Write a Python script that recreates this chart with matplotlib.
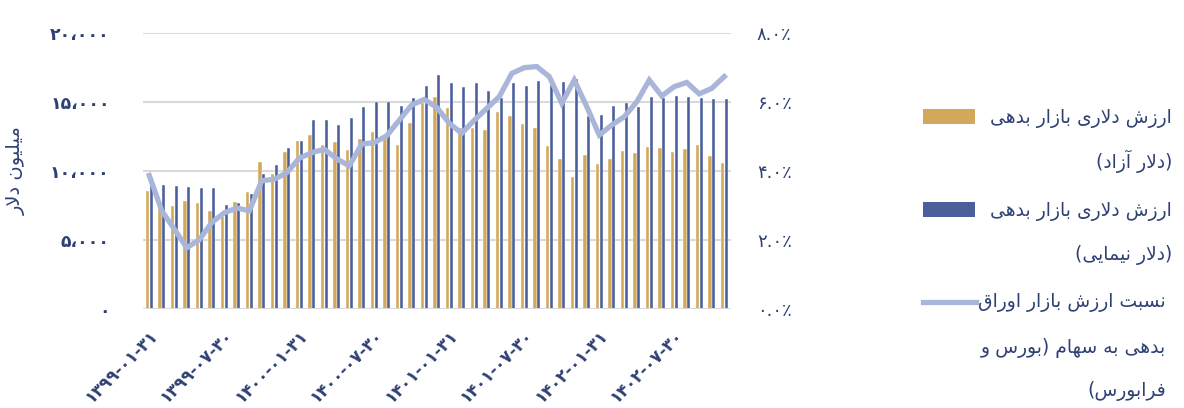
import matplotlib
matplotlib.use("Agg")
import matplotlib.pyplot as plt
from matplotlib.patches import Rectangle
from matplotlib.lines import Line2D
import numpy as np

# monthly debt-market value, million USD (free-market dollar / NIMA dollar)
free_usd = [8550, 7400, 7500, 7800, 7650, 7100, 6700, 7750, 8450, 10650,
            9750, 11400, 12150, 12600, 11900, 12100, 11550, 12300, 12800, 12300,
            11900, 13450, 14950, 15350, 14550, 13100, 13100, 12950, 14250, 13950,
            13400, 13100, 11800, 10900, 9600, 11150, 10500, 10900, 11450, 11300,
            11700, 11650, 11400, 11600, 11900, 11100, 10600]
nima_usd = [9000, 8990, 8890, 8820, 8800, 8800, 7540, 7660, 8320, 9790,
            10460, 11640, 12200, 13670, 13670, 13300, 13810, 14600, 14990, 14970,
            14720, 15250, 16150, 16940, 16390, 16050, 16390, 15760, 15300, 16340,
            16150, 16530, 16220, 16440, 16630, 14000, 14030, 14700, 14920, 14630,
            15350, 15300, 15400, 15350, 15250, 15230, 15230]
# ratio of debt-market value to equity market (percent)
ratio_pct = [3.87, 2.85, 2.32, 1.78, 2.01, 2.51, 2.79, 2.93, 2.85, 3.72,
             3.76, 3.95, 4.37, 4.53, 4.63, 4.35, 4.15, 4.78, 4.82, 5.02,
             5.47, 5.91, 6.07, 5.84, 5.38, 5.09, 5.47, 5.81, 6.15, 6.82,
             6.99, 7.02, 6.73, 5.96, 6.63, 5.86, 5.04, 5.33, 5.57, 6.00,
             6.63, 6.17, 6.44, 6.56, 6.23, 6.39, 6.73]

date_ticks = [0, 6, 12, 18, 24, 30, 36, 42]
date_labels = ["۱۳۹۹-۰۱-۳۱", "۱۳۹۹-۰۷-۳۰", "۱۴۰۰-۰۱-۳۱", "۱۴۰۰-۰۷-۳۰",
               "۱۴۰۱-۰۱-۳۱", "۱۴۰۱-۰۷-۳۰", "۱۴۰۲-۰۱-۳۱", "۱۴۰۲-۰۷-۳۰"]
left_ticks = [0, 5000, 10000, 15000, 20000]
left_labels = ["۰", "۵،۰۰۰", "۱۰،۰۰۰", "۱۵،۰۰۰", "۲۰،۰۰۰"]
right_ticks = [0, 2, 4, 6, 8]
right_labels = ["۰.۰٪", "۲.۰٪", "۴.۰٪", "۶.۰٪", "۸.۰٪"]

# contextual forms: isolated, final, initial, medial
FORMS = {
    'ا': ('\uFE8D', '\uFE8E', None, None),
    'آ': ('\uFE81', '\uFE82', None, None),
    'ب': ('\uFE8F', '\uFE90', '\uFE91', '\uFE92'),
    'ت': ('\uFE95', '\uFE96', '\uFE97', '\uFE98'),
    'د': ('\uFEA9', '\uFEAA', None, None),
    'ر': ('\uFEAD', '\uFEAE', None, None),
    'ز': ('\uFEAF', '\uFEB0', None, None),
    'س': ('\uFEB1', '\uFEB2', '\uFEB3', '\uFEB4'),
    'ش': ('\uFEB5', '\uFEB6', '\uFEB7', '\uFEB8'),
    'ف': ('\uFED1', '\uFED2', '\uFED3', '\uFED4'),
    'ق': ('\uFED5', '\uFED6', '\uFED7', '\uFED8'),
    'ل': ('\uFEDD', '\uFEDE', '\uFEDF', '\uFEE0'),
    'م': ('\uFEE1', '\uFEE2', '\uFEE3', '\uFEE4'),
    'ن': ('\uFEE5', '\uFEE6', '\uFEE7', '\uFEE8'),
    'ه': ('\uFEE9', '\uFEEA', '\uFEEB', '\uFEEC'),
    'و': ('\uFEED', '\uFEEE', None, None),
    'ی': ('\uFBFC', '\uFBFD', '\uFBFE', '\uFBFF'),
    'لا': ('\uFEFB', '\uFEFC', None, None),
    'لآ': ('\uFEF5', '\uFEF6', None, None),
}


def fa(s):
    """join persian letters and lay them out right-to-left"""
    units, i = [], 0
    while i < len(s):
        if s[i:i + 2] in FORMS:
            units.append(s[i:i + 2]); i += 2
        else:
            units.append(s[i]); i += 1
    out = []
    for k, u in enumerate(units):
        if u not in FORMS:
            out.append(u)
            continue
        prev = units[k - 1] if k > 0 else None
        nxt = units[k + 1] if k + 1 < len(units) else None
        jp = prev in FORMS and FORMS[prev][2] is not None
        jn = FORMS[u][2] is not None and nxt in FORMS
        iso, fin, ini, med = FORMS[u]
        out.append(med if jp and jn else fin if jp else ini if jn else iso)
    return ''.join(reversed(out)).translate(str.maketrans('()', ')('))


navy = '#2F4174'
tan = '#D2A95A'
blue = '#4A5F9C'
pale = '#A9B6DA'
grid = '#D9D9D9'

plt.rcParams['font.family'] = ['DejaVu Sans']

fig = plt.figure(figsize=(11.84, 4.08), dpi=100)
ax = fig.add_axes([0.1208, 0.2419, 0.4962, 0.6780])
ax2 = ax.twinx()

x = np.arange(len(free_usd))
ax.bar(x - 0.145, free_usd, width=0.25, color=tan, edgecolor='white', linewidth=0.3, zorder=2)
ax.bar(x + 0.145, nima_usd, width=0.25, color=blue, edgecolor='white', linewidth=0.3, zorder=2)
ax2.plot(x, ratio_pct, color=pale, linewidth=3.8, solid_joinstyle='miter', zorder=3)

ax.set_xlim(-0.5, len(x) - 0.5)
ax.set_ylim(0, 20000)
ax2.set_ylim(0, 8)

ax.set_yticks(left_ticks)
ax.set_yticklabels(left_labels, fontsize=12.5, fontweight='bold', color=navy)
ax2.set_yticks(right_ticks)
ax2.set_yticklabels(right_labels, fontsize=13, color=navy)
ax.tick_params(axis='y', length=0, pad=24)
ax2.tick_params(axis='y', length=0, pad=19)

ax.set_xticks(date_ticks)
ax.set_xticklabels(date_labels, rotation=45, ha='right', va='top', rotation_mode='anchor',
                   fontsize=12, fontweight='bold', color=navy)
ax.tick_params(axis='x', length=0, pad=12)

ax.grid(axis='y', color=grid, linewidth=1.5, zorder=0)
ax.set_axisbelow(True)
for a in (ax, ax2):
    for side in ('top', 'left', 'right', 'bottom'):
        a.spines[side].set_visible(False)
ax.axhline(0, color=grid, linewidth=2.2, zorder=4)

fig.text(0.0135, 0.583, fa('میلیون دلار'), rotation=90, ha='center', va='center',
         fontsize=14, color=navy)


# legend on the right
def fx(px):
    return px / 1184


def fy(py):
    return 1 - py / 408


fig.add_artist(Rectangle((fx(923), fy(124)), fx(52), 15 / 408, facecolor=tan,
                         transform=fig.transFigure))
fig.add_artist(Rectangle((fx(923), fy(217)), fx(52), 15 / 408, facecolor=blue,
                         transform=fig.transFigure))
fig.add_artist(Line2D([fx(923), fx(976)], [fy(302), fy(302)], color=pale, linewidth=3.8,
                      transform=fig.transFigure))

legend_lines = [
    ('ارزش دلاری بازار بدهی', 1172, 118),
    ('(دلار آزاد)', 1172, 161),
    ('ارزش دلاری بازار بدهی', 1172, 211),
    ('(دلار نیمایی)', 1172, 255),
    ('نسبت ارزش بازار اوراق', 1166, 302),
    ('بدهی به سهام (بورس و', 1166, 348),
    ('فرابورس)', 1166, 391),
]
for txt, px, py in legend_lines:
    fig.text(fx(px), fy(py), fa(txt), ha='right', va='center', fontsize=13.5, color=navy)

fig.savefig('out.png', dpi=100)
